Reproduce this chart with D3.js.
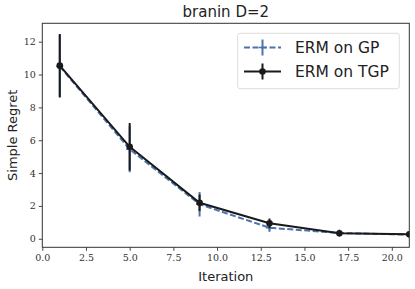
<!DOCTYPE html>
<html>
<head>
<meta charset="utf-8">
<script src="https://cdn.jsdelivr.net/npm/d3@7"></script>
<style>
  body { margin: 0; background: #fff; }
  svg { display: block; }
</style>
</head>
<body>
<svg width="415" height="289"></svg>
<script>
const ITERATIONS = [1, 5, 9, 13, 17, 21];
const GP_MEAN = [10.5, 5.45, 2.1, 0.67, 0.35, 0.25];
const GP_ERR = [1.9, 1.4, 0.74, 0.25, 0.06, 0.05];
const TGP_MEAN = [10.54, 5.6, 2.19, 0.94, 0.33, 0.27];
const TGP_ERR = [1.93, 1.45, 0.5, 0.3, 0.08, 0.05];
const X_TICKS = [0, 2.5, 5, 7.5, 10, 12.5, 15, 17.5, 20];
const Y_TICKS = [0, 2, 4, 6, 8, 10, 12];

const MARGIN = { left: 42.3, right: 409.3, top: 23.3, bottom: 247.3 };

const svg = d3.select("svg");

const xScale = d3.scaleLinear().domain([0, 21]).range([MARGIN.left, MARGIN.right]);
const yScale = d3.scaleLinear().domain([-0.52, 13.12]).range([MARGIN.bottom, MARGIN.top]);

const tickFont = "'DejaVu Serif', 'Liberation Serif', serif";
const labelFont = "'DejaVu Sans', sans-serif";

// axes
const xAxis = svg.append("g")
    .attr("transform", `translate(0, ${MARGIN.bottom})`)
    .call(d3.axisBottom(xScale).tickValues(X_TICKS).tickFormat(d3.format(".1f")).tickSize(3.5).tickSizeOuter(0).tickPadding(3));
const yAxis = svg.append("g")
    .attr("transform", `translate(${MARGIN.left}, 0)`)
    .call(d3.axisLeft(yScale).tickValues(Y_TICKS).tickFormat(d3.format("d")).tickSize(3.5).tickSizeOuter(0).tickPadding(3));

[xAxis, yAxis].forEach(ax => {
    ax.select(".domain").remove();
    ax.selectAll("line").attr("stroke", "#333").attr("stroke-width", 0.9);
    ax.selectAll("text")
        .attr("fill", "#333")
        .style("font-family", tickFont)
        .style("font-size", "9.5px");
});

// frame
svg.append("rect")
    .attr("x", MARGIN.left)
    .attr("y", MARGIN.top)
    .attr("width", MARGIN.right - MARGIN.left)
    .attr("height", MARGIN.bottom - MARGIN.top)
    .attr("fill", "none")
    .attr("stroke", "#333")
    .attr("stroke-width", 1);

const plot = svg.append("g");
plot.append("clipPath").attr("id", "clip")
    .append("rect")
    .attr("x", MARGIN.left).attr("y", MARGIN.top)
    .attr("width", MARGIN.right - MARGIN.left).attr("height", MARGIN.bottom - MARGIN.top);
const inner = plot.append("g").attr("clip-path", "url(#clip)");

const line = d3.line().x(d => xScale(d[0])).y(d => yScale(d[1]));

function drawSeries(means, errs, color, dash, marker) {
    const pts = ITERATIONS.map((x, i) => [x, means[i], errs[i]]);
    inner.selectAll(null)
        .data(pts)
        .enter()
        .append("line")
        .attr("x1", d => xScale(d[0]))
        .attr("x2", d => xScale(d[0]))
        .attr("y1", d => yScale(d[1] - d[2]))
        .attr("y2", d => yScale(d[1] + d[2]))
        .attr("stroke", color)
        .attr("stroke-width", 2);
    inner.append("path")
        .datum(pts)
        .attr("d", line)
        .attr("fill", "none")
        .attr("stroke", color)
        .attr("stroke-width", 2)
        .attr("stroke-dasharray", dash);
    if (marker === "circle") {
        inner.selectAll(null)
            .data(pts)
            .enter()
            .append("circle")
            .attr("cx", d => xScale(d[0]))
            .attr("cy", d => yScale(d[1]))
            .attr("r", 3.3)
            .attr("fill", color);
    } else {
        inner.selectAll(null)
            .data(pts)
            .enter()
            .append("path")
            .attr("d", d => {
                const x = xScale(d[0]), y = yScale(d[1]);
                return `M${x - 3.5},${y}H${x + 3.5}M${x},${y - 3.5}V${y + 3.5}`;
            })
            .attr("stroke", color)
            .attr("stroke-width", 1.5);
    }
}

drawSeries(GP_MEAN, GP_ERR, "#4c72b0", "6,2.5", "plus");
drawSeries(TGP_MEAN, TGP_ERR, "#1a1a1a", null, "circle");

// title and labels
svg.append("text")
    .attr("x", (MARGIN.left + MARGIN.right) / 2)
    .attr("y", 17)
    .attr("text-anchor", "middle")
    .style("font-family", labelFont)
    .style("font-size", "15px")
    .attr("fill", "#222")
    .text("branin D=2");

svg.append("text")
    .attr("x", (MARGIN.left + MARGIN.right) / 2)
    .attr("y", 281)
    .attr("text-anchor", "middle")
    .style("font-family", labelFont)
    .style("font-size", "13px")
    .attr("fill", "#222")
    .text("Iteration");

svg.append("text")
    .attr("transform", `translate(17, ${(MARGIN.top + MARGIN.bottom) / 2}) rotate(-90)`)
    .attr("text-anchor", "middle")
    .style("font-family", labelFont)
    .style("font-size", "13px")
    .attr("fill", "#222")
    .text("Simple Regret");

// legend
const legend = svg.append("g");
legend.append("rect")
    .attr("x", 237.7).attr("y", 33.3)
    .attr("width", 161.6).attr("height", 55.4)
    .attr("rx", 2.5)
    .attr("fill", "#fff")
    .attr("fill-opacity", 0.8)
    .attr("stroke", "#ddd")
    .attr("stroke-width", 1);

const LEGEND_ITEMS = [
    { label: "ERM on GP", color: "#4c72b0", dash: "6,2.5", marker: "plus", y: 47.5 },
    { label: "ERM on TGP", color: "#1a1a1a", dash: null, marker: "circle", y: 71.5 },
];
LEGEND_ITEMS.forEach(item => {
    const cx = 262.5;
    legend.append("line")
        .attr("x1", 244).attr("x2", 281)
        .attr("y1", item.y).attr("y2", item.y)
        .attr("stroke", item.color).attr("stroke-width", 2)
        .attr("stroke-dasharray", item.dash);
    legend.append("line")
        .attr("x1", cx).attr("x2", cx)
        .attr("y1", item.y - 8).attr("y2", item.y + 8)
        .attr("stroke", item.color).attr("stroke-width", 2);
    if (item.marker === "circle") {
        legend.append("circle").attr("cx", cx).attr("cy", item.y).attr("r", 3.3).attr("fill", item.color);
    } else {
        legend.append("path")
            .attr("d", `M${cx - 3.5},${item.y}H${cx + 3.5}`)
            .attr("stroke", item.color).attr("stroke-width", 1.5);
    }
    legend.append("text")
        .attr("x", 295)
        .attr("y", item.y + 5.5)
        .style("font-family", labelFont)
        .style("font-size", "15.5px")
        .attr("fill", "#222")
        .text(item.label);
});
</script>
</body>
</html>
